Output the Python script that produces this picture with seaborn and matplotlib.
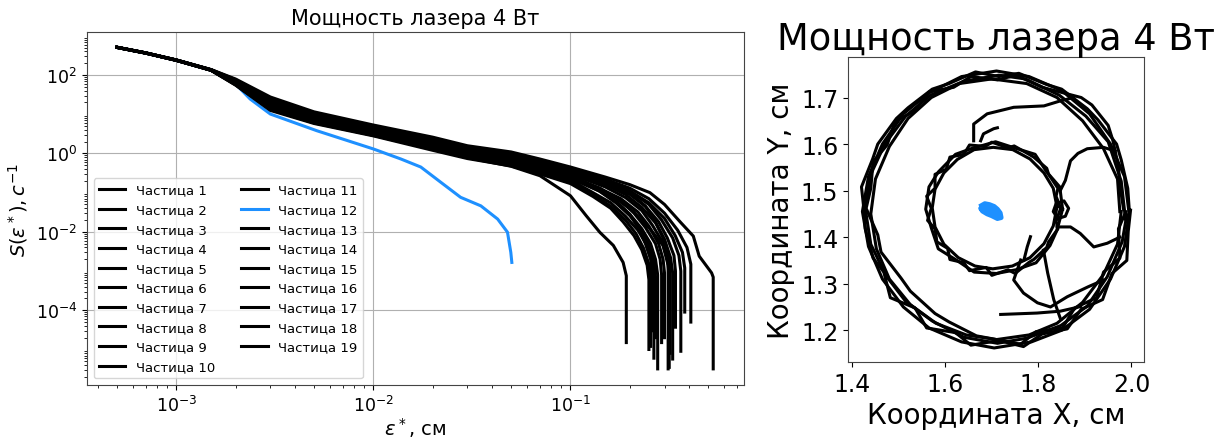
import numpy as np
import pandas as pd
import matplotlib
matplotlib.use("Agg")
import matplotlib.pyplot as plt
import seaborn as sns

# ---------------- data: left panel (structure function) ----------------
head_x = [5e-4, 7e-4, 1e-3, 1.5e-3, 2e-3, 3e-3, 5e-3, 1e-2, 2e-2, 3e-2, 5e-2, 7e-2, 0.1]

particle_ids = [1, 2, 3, 4, 5, 6, 7, 8, 9, 10, 11, 13, 14, 15, 16, 17, 18, 19]

head_y = [
    [512, 368, 243, 138, 79, 27.5, 11.5, 5.3, 2.6, 1.57, 1.09, 0.72, 0.45],
    [508, 364, 239, 134, 63, 16.0, 7.2, 3.4, 1.5, 0.93, 0.62, 0.40, 0.24],
    [511, 367, 242, 137, 76, 25.0, 10.5, 4.9, 2.4, 1.45, 1.00, 0.66, 0.42],
    [510, 366, 241, 136, 73, 23.0, 9.8, 4.6, 2.2, 1.35, 0.92, 0.60, 0.38],
    [510, 366, 241, 136, 74, 24.0, 10.0, 4.7, 2.3, 1.40, 0.95, 0.63, 0.40],
    [509, 365, 240, 135, 70, 21.0, 9.2, 4.3, 2.0, 1.25, 0.84, 0.55, 0.35],
    [509, 365, 240, 135, 68, 20.0, 8.8, 4.1, 1.9, 1.20, 0.80, 0.53, 0.33],
    [508, 364, 239, 134, 66, 18.5, 8.2, 3.8, 1.75, 1.10, 0.73, 0.48, 0.30],
    [507, 363, 238, 134, 64, 17.0, 7.6, 3.6, 1.65, 1.02, 0.68, 0.44, 0.27],
    [507, 363, 238, 133, 61, 15.5, 7.0, 3.3, 1.5, 0.95, 0.63, 0.41, 0.25],
    [506, 362, 237, 133, 59, 14.5, 6.6, 3.1, 1.4, 0.88, 0.58, 0.38, 0.23],
    [506, 362, 237, 133, 58, 14.0, 6.4, 3.0, 1.35, 0.84, 0.55, 0.36, 0.21],
    [505, 361, 236, 132, 56, 13.2, 6.0, 2.9, 1.28, 0.80, 0.52, 0.33, 0.19],
    [505, 361, 236, 132, 55, 12.5, 5.8, 2.8, 1.2, 0.74, 0.48, 0.30, 0.17],
    [508, 364, 239, 134, 65, 18.0, 8.0, 3.7, 1.7, 1.05, 0.70, 0.46, 0.28],
    [507, 363, 238, 133, 62, 16.5, 7.4, 3.5, 1.6, 0.98, 0.65, 0.42, 0.26],
    [510, 366, 241, 136, 71, 22.0, 9.5, 4.4, 2.1, 1.30, 0.88, 0.58, 0.36],
    [505, 361, 236, 132, 57, 13.5, 6.2, 2.9, 1.3, 0.78, 0.47, 0.27, 0.083],
]

tail_x = [
    [0.15, 0.2, 0.253, 0.3, 0.36, 0.42, 0.45, 0.52, 0.53, 0.53],
    [0.141, 0.171, 0.208, 0.253, 0.295, 0.313, 0.313],
    [0.15, 0.2, 0.25, 0.3, 0.35, 0.39, 0.408, 0.408],
    [0.15, 0.2, 0.25, 0.3, 0.34, 0.37, 0.38, 0.38],
    [0.15, 0.2, 0.25, 0.29, 0.33, 0.355, 0.363, 0.363],
    [0.15, 0.2, 0.24, 0.28, 0.31, 0.335, 0.341, 0.341],
    [0.15, 0.19, 0.23, 0.27, 0.30, 0.322, 0.33, 0.33],
    [0.15, 0.19, 0.23, 0.26, 0.29, 0.31, 0.317, 0.317],
    [0.14, 0.18, 0.22, 0.25, 0.28, 0.295, 0.30, 0.30],
    [0.14, 0.18, 0.21, 0.24, 0.27, 0.285, 0.29, 0.29],
    [0.14, 0.17, 0.2, 0.23, 0.255, 0.27, 0.277, 0.277],
    [0.13, 0.16, 0.19, 0.22, 0.245, 0.26, 0.265, 0.265],
    [0.13, 0.16, 0.19, 0.215, 0.235, 0.25, 0.255, 0.255],
    [0.13, 0.16, 0.185, 0.21, 0.23, 0.245, 0.25, 0.25],
    [0.14, 0.17, 0.2, 0.22, 0.24, 0.255, 0.26, 0.26],
    [0.14, 0.17, 0.2, 0.23, 0.25, 0.265, 0.27, 0.27],
    [0.15, 0.2, 0.24, 0.27, 0.295, 0.313, 0.32, 0.32],
    [0.12, 0.141, 0.165, 0.185, 0.192, 0.192],
]

tail_y = [
    [0.25, 0.16, 0.1, 0.05, 0.018, 0.0078, 0.0024, 0.0009, 7e-4, 3.2e-6],
    [0.13, 0.07, 0.033, 0.012, 0.0045, 0.0014, 3.2e-6],
    [0.22, 0.13, 0.07, 0.03, 0.011, 0.004, 0.0015, 5e-5],
    [0.2, 0.11, 0.055, 0.022, 0.008, 0.003, 0.0012, 9e-5],
    [0.21, 0.11, 0.05, 0.02, 0.007, 0.0025, 0.001, 9e-6],
    [0.17, 0.09, 0.045, 0.018, 0.007, 0.0025, 0.001, 3.7e-5],
    [0.16, 0.09, 0.042, 0.017, 0.0065, 0.0022, 0.0009, 5.7e-6],
    [0.14, 0.075, 0.035, 0.015, 0.006, 0.002, 0.0008, 3.5e-6],
    [0.13, 0.07, 0.032, 0.014, 0.005, 0.002, 0.0009, 2e-5],
    [0.12, 0.065, 0.03, 0.013, 0.005, 0.002, 0.0008, 1.5e-5],
    [0.11, 0.06, 0.028, 0.012, 0.005, 0.002, 0.0008, 3.2e-6],
    [0.1, 0.055, 0.025, 0.011, 0.0045, 0.0018, 0.0007, 6e-6],
    [0.09, 0.045, 0.02, 0.009, 0.0038, 0.0015, 0.0006, 1.2e-5],
    [0.08, 0.04, 0.018, 0.008, 0.0035, 0.0014, 0.0006, 1e-5],
    [0.12, 0.06, 0.028, 0.013, 0.005, 0.002, 0.0008, 3e-5],
    [0.11, 0.055, 0.026, 0.011, 0.0045, 0.0018, 0.0007, 2e-5],
    [0.19, 0.1, 0.045, 0.018, 0.007, 0.0025, 0.001, 8e-6],
    [0.026, 0.0097, 0.0045, 0.00166, 7.6e-4, 1.5e-5],
]

blue_x = [5e-4, 7e-4, 1e-3, 1.5e-3, 2e-3, 2.37e-3, 3e-3, 5.16e-3, 1e-2, 1.38e-2,
          1.74e-2, 2.2e-2, 2.77e-2, 3.51e-2, 4.27e-2, 4.79e-2, 4.98e-2, 5.04e-2]
blue_y = [505, 362, 237, 133, 59, 24.4, 10.1, 3.8, 1.3, 0.72,
          0.45, 0.183, 0.076, 0.046, 0.0212, 0.0098, 0.003, 0.00166]

# ---------------- data: right panel (trajectories) ----------------
outer_a_x = [1.995, 1.985, 1.955, 1.91, 1.85, 1.78, 1.71, 1.635, 1.565, 1.51, 1.465, 1.435, 1.422,
             1.435, 1.465, 1.51, 1.565, 1.635, 1.705, 1.785, 1.85, 1.91, 1.955, 1.985, 1.995]
outer_a_y = [1.45, 1.53, 1.60, 1.665, 1.715, 1.745, 1.757, 1.745, 1.71, 1.665, 1.60, 1.53, 1.455,
             1.38, 1.31, 1.25, 1.205, 1.175, 1.162, 1.175, 1.2, 1.245, 1.31, 1.38, 1.45]
outer_b_x = [1.975, 1.97, 1.94, 1.895, 1.84, 1.775, 1.70, 1.63, 1.57, 1.52, 1.48, 1.45, 1.44,
             1.452, 1.48, 1.525, 1.58, 1.645, 1.71, 1.78, 1.84, 1.895, 1.94, 1.97, 1.978]
outer_b_y = [1.455, 1.525, 1.59, 1.65, 1.70, 1.73, 1.74, 1.73, 1.70, 1.655, 1.595, 1.525, 1.45,
             1.375, 1.31, 1.255, 1.215, 1.19, 1.18, 1.19, 1.215, 1.26, 1.32, 1.385, 1.455]
outer_c_x = [1.987, 1.978, 1.95, 1.902, 1.845, 1.772, 1.715, 1.64, 1.568, 1.515, 1.47, 1.44, 1.428,
             1.44, 1.472, 1.515, 1.572, 1.64, 1.712, 1.775, 1.848, 1.905, 1.948, 1.98, 1.99]
outer_c_y = [1.44, 1.52, 1.605, 1.66, 1.705, 1.74, 1.748, 1.735, 1.705, 1.66, 1.6, 1.535, 1.462,
             1.385, 1.318, 1.262, 1.22, 1.185, 1.172, 1.183, 1.21, 1.252, 1.315, 1.39, 1.448]
outer_f_x = [1.983, 1.975, 1.972, 1.960, 1.950, 1.915, 1.892, 1.846, 1.808, 1.752, 1.712, 1.655,
             1.618, 1.565, 1.535, 1.492, 1.475, 1.445, 1.440, 1.430, 1.455, 1.462, 1.505, 1.525,
             1.578, 1.608, 1.667, 1.700, 1.762, 1.795, 1.852, 1.878, 1.925, 1.940, 1.975, 1.972, 1.988]
outer_f_y = [1.46, 1.512, 1.552, 1.608, 1.640, 1.684, 1.700, 1.712, 1.722, 1.748, 1.738, 1.745,
             1.722, 1.712, 1.672, 1.648, 1.598, 1.562, 1.505, 1.462, 1.405, 1.368, 1.312, 1.284,
             1.236, 1.218, 1.188, 1.182, 1.170, 1.197, 1.205, 1.248, 1.270, 1.325, 1.355, 1.418, 1.455]
outer_g_x = [1.995, 1.992, 1.978, 1.968, 1.928, 1.905, 1.850, 1.818, 1.758, 1.715, 1.665, 1.608,
             1.572, 1.520, 1.495, 1.455, 1.444, 1.420, 1.425, 1.428, 1.445, 1.468, 1.482, 1.535,
             1.560, 1.622, 1.655, 1.715, 1.768, 1.808, 1.862, 1.892, 1.938, 1.958, 1.990, 1.993, 1.998]
outer_g_y = [1.462, 1.505, 1.566, 1.600, 1.652, 1.676, 1.718, 1.728, 1.752, 1.745, 1.755, 1.730,
             1.718, 1.678, 1.655, 1.600, 1.568, 1.508, 1.462, 1.418, 1.355, 1.325, 1.270, 1.248,
             1.205, 1.195, 1.168, 1.178, 1.165, 1.192, 1.203, 1.245, 1.266, 1.322, 1.350, 1.412, 1.458]
inner_d_x = [1.852, 1.846, 1.818, 1.793, 1.748, 1.708, 1.655, 1.622, 1.585, 1.565, 1.558,
             1.57, 1.585, 1.625, 1.662, 1.71, 1.752, 1.795, 1.825, 1.84, 1.852]
inner_d_y = [1.46, 1.508, 1.54, 1.578, 1.592, 1.605, 1.59, 1.578, 1.54, 1.508, 1.46,
             1.42, 1.375, 1.35, 1.325, 1.322, 1.33, 1.345, 1.382, 1.415, 1.46]
inner_e_x = [1.84, 1.832, 1.812, 1.782, 1.745, 1.703, 1.662, 1.626, 1.597, 1.578, 1.572,
             1.578, 1.597, 1.628, 1.664, 1.702, 1.744, 1.782, 1.812, 1.832, 1.84]
inner_e_y = [1.465, 1.505, 1.538, 1.568, 1.588, 1.593, 1.588, 1.567, 1.538, 1.503, 1.463,
             1.422, 1.385, 1.356, 1.338, 1.332, 1.338, 1.356, 1.386, 1.424, 1.465]
inner_h_x = [1.848, 1.838, 1.842, 1.822, 1.818, 1.790, 1.780, 1.748, 1.735, 1.700, 1.686, 1.652,
             1.640, 1.610, 1.602, 1.578, 1.578, 1.560, 1.570, 1.562, 1.578, 1.582, 1.605, 1.610,
             1.640, 1.652, 1.688, 1.700, 1.735, 1.750, 1.780, 1.790, 1.818, 1.822, 1.842, 1.838, 1.848]
inner_h_y = [1.462, 1.488, 1.505, 1.535, 1.548, 1.572, 1.578, 1.596, 1.592, 1.604, 1.595, 1.598,
             1.578, 1.572, 1.546, 1.535, 1.505, 1.488, 1.462, 1.436, 1.418, 1.39, 1.376, 1.352,
             1.345, 1.328, 1.335, 1.318, 1.330, 1.322, 1.346, 1.352, 1.378, 1.39, 1.418, 1.435, 1.462]
loop_right_x = [1.842, 1.858, 1.865, 1.855, 1.838, 1.832, 1.842]
loop_right_y = [1.44, 1.445, 1.462, 1.478, 1.472, 1.455, 1.44]
arc_right_x = [1.847, 1.858, 1.869, 1.885, 1.905, 1.94, 1.965]
arc_right_y = [1.50, 1.522, 1.564, 1.58, 1.59, 1.593, 1.585]
arc_top_x = [1.661, 1.661, 1.69, 1.747, 1.812, 1.848, 1.876]
arc_top_y = [1.607, 1.643, 1.665, 1.679, 1.682, 1.693, 1.70]
path_mid_x = [1.84, 1.869, 1.89, 1.919, 1.948, 1.975]
path_mid_y = [1.422, 1.422, 1.408, 1.379, 1.387, 1.40]
path_low_x = [1.762, 1.747, 1.768, 1.798, 1.826, 1.862, 1.906, 1.94]
path_low_y = [1.351, 1.308, 1.28, 1.259, 1.25, 1.272, 1.293, 1.308]
path_bottom_x = [1.719, 1.797, 1.847, 1.891]
path_bottom_y = [1.234, 1.237, 1.241, 1.251]
path_vert_x = [1.811, 1.82, 1.833, 1.848]
path_vert_y = [1.372, 1.323, 1.266, 1.223]
stub_in_x = [1.783, 1.776, 1.769]
stub_in_y = [1.401, 1.379, 1.351]
stub_top_x = [1.676, 1.682, 1.704, 1.712]
stub_top_y = [1.607, 1.622, 1.633, 1.635]
blob_x = [1.678, 1.685, 1.695, 1.705, 1.712, 1.718, 1.72, 1.712, 1.70, 1.69, 1.68, 1.676,
          1.683, 1.697, 1.708, 1.715, 1.70, 1.688]
blob_y = [1.468, 1.472, 1.47, 1.466, 1.46, 1.452, 1.442, 1.44, 1.446, 1.45, 1.456, 1.462,
          1.458, 1.455, 1.45, 1.445, 1.46, 1.465]

title = "Мощность лазера 4 Вт"
blue = "#1E90FF"

# ---------------- figure ----------------
fig = plt.figure(figsize=(12.23, 4.39), dpi=100)
ax1 = fig.add_axes([0.0711, 0.1207, 0.5372, 0.8041])
ax2 = fig.add_axes([0.6934, 0.1686, 0.2420, 0.7039])

ax1.set_xscale("log")
ax1.set_yscale("log")

curves = {}
for pid, hy, tx, ty in zip(particle_ids, head_y, tail_x, tail_y):
    curves[pid] = (head_x + tx, hy + ty, "black")
curves[12] = (blue_x, blue_y, blue)

for pid in range(1, 20):
    xs, ys, col = curves[pid]
    df = pd.DataFrame({"x": xs, "y": ys})
    sns.lineplot(data=df, x="x", y="y", ax=ax1, color=col, lw=2.2, sort=False,
                 estimator=None, label=f"Частица {pid}")

ax1.set_xlim(3.52e-4, 0.759)
ax1.set_ylim(1.24e-6, 1250)
ax1.set_yticks([1e-4, 1e-2, 1, 1e2])
ax1.grid(True, which="major", color="#b0b0b0", lw=0.8)
ax1.set_axisbelow(True)
ax1.tick_params(axis="both", which="major", labelsize=12.5)
for sp in ax1.spines.values():
    sp.set_color("#444444")
ax1.set_xlabel(r"$\varepsilon^*$, см", fontsize=14, labelpad=0)
ax1.set_ylabel(r"$S(\varepsilon^*), c^{-1}$", fontsize=14)
ax1.set_title(title, fontsize=15)
ax1.legend(loc="lower left", ncol=2, fontsize=9.5, columnspacing=2.0)

tracks = [
    (outer_a_x, outer_a_y), (outer_b_x, outer_b_y), (outer_c_x, outer_c_y),
    (outer_f_x, outer_f_y), (outer_g_x, outer_g_y),
    (inner_d_x, inner_d_y), (inner_e_x, inner_e_y), (inner_h_x, inner_h_y),
    (loop_right_x, loop_right_y),
    (arc_right_x, arc_right_y), (arc_top_x, arc_top_y),
    (path_mid_x, path_mid_y), (path_low_x, path_low_y),
    (path_bottom_x, path_bottom_y), (path_vert_x, path_vert_y),
    (stub_in_x, stub_in_y), (stub_top_x, stub_top_y),
]
for tx, ty in tracks:
    sns.lineplot(x=tx, y=ty, ax=ax2, color="black", lw=2.2, sort=False, estimator=None)
sns.lineplot(x=blob_x, y=blob_y, ax=ax2, color=blue, lw=3.5, sort=False, estimator=None)

ax2.set_aspect("equal", adjustable="box")
ax2.set_xticks([1.4, 1.6, 1.8, 2.0])
ax2.set_yticks([1.2, 1.3, 1.4, 1.5, 1.6, 1.7])
ax2.tick_params(labelsize=17)
for sp in ax2.spines.values():
    sp.set_color("#444444")
ax2.set_xlabel("Координата X, см", fontsize=20)
ax2.set_ylabel("Координата Y, см", fontsize=20)
ax2.set_title(title, fontsize=26.5)

fig.savefig("out.png", dpi=100)
